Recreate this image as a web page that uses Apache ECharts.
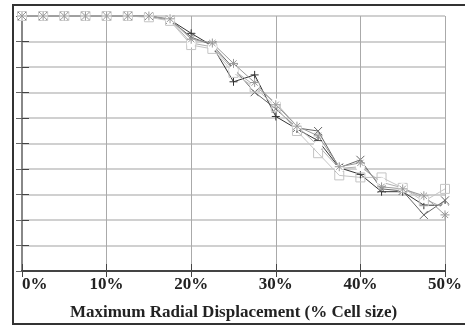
<!DOCTYPE html>
<html>
<head>
<meta charset="utf-8">
<script src="https://cdn.jsdelivr.net/npm/echarts@6/dist/echarts.min.js"></script>
<style>
  html, body { margin: 0; padding: 0; background: #fff; }
  #chart { width: 465px; height: 326px; }
</style>
</head>
<body>
<div id="chart"></div>
<script>
// x positions: maximum radial displacement (% of cell size)
const displacement = [0, 2.5, 5, 7.5, 10, 12.5, 15, 17.5, 20, 22.5, 25, 27.5, 30, 32.5, 35, 37.5, 40, 42.5, 45, 47.5, 50];
const xTicks = [0, 10, 20, 30, 40, 50];

// series values (y axis has no labels, 0..100 scale)
const seriesPlus = [100, 100, 100, 100, 100, 100, 100, 98.5, 93.2, 88.3, 74.2, 76.9, 60.6, 55.7, 51.1, 40.5, 37.9, 31.1, 31.1, 25.8, 25.8];
const seriesCross = [100, 100, 100, 100, 100, 100, 100, 98.5, 91.7, 88.6, 79.5, 70.1, 63.6, 56.1, 54.9, 40.5, 43.6, 32.2, 31.4, 22.0, 27.7];
const seriesStar = [100, 100, 100, 100, 100, 100, 100, 98.9, 90.9, 89.4, 81.4, 73.9, 65.2, 56.8, 53.0, 40.9, 42.4, 33.0, 32.2, 29.5, 22.0];
const seriesCircle = [100, 100, 100, 100, 100, 100, 100, 98.5, 89.4, 87.9, 78.8, 72.7, 65.9, 56.8, 49.2, 40.2, 40.9, 34.8, 32.6, 28.4, 24.6];
const seriesSquare = [100, 100, 100, 100, 100, 100, 99.5, 98.1, 88.6, 87.1, 77.7, 72.0, 64.4, 54.9, 46.2, 37.5, 36.7, 36.7, 32.6, 27.3, 32.2];

const chart = echarts.init(document.getElementById('chart'));

const SYM_PLUS = 'path://M5,0L5,10M0,5L10,5';
const SYM_CROSS = 'path://M0,0L10,10M10,0L0,10';
const SYM_STAR = 'path://M5,0L5,10M0,5L10,5M1.5,1.5L8.5,8.5M8.5,1.5L1.5,8.5';

function makeSeries(values, symbol, color, size) {
    return {
        type: 'line',
        data: values.map((v, i) => [displacement[i], v]),
        symbol: symbol,
        symbolSize: size,
        lineStyle: { color: color, width: 1 },
        itemStyle: { color: 'rgba(0,0,0,0)', borderColor: color, borderWidth: 1 },
        emphasis: { disabled: true }
    };
}

const serif = 'Liberation Serif, Times New Roman, serif';

const option = {
    animation: false,
    graphic: [{
        type: 'rect',
        shape: { x: 13, y: 5, width: 470, height: 319 },
        style: { fill: 'none', stroke: '#333', lineWidth: 2 },
        silent: true
    }],
    grid: { left: 22, top: 16, right: 20, bottom: 46 },
    xAxis: [{
        type: 'value', min: 0, max: 50, interval: 10, position: 'bottom',
        axisLine: { lineStyle: { color: '#444', width: 2 } },
        axisTick: { inside: true, length: 7, lineStyle: { color: '#444' } },
        axisLabel: {
            formatter: '{value}%', fontFamily: serif, fontWeight: 'bold',
            fontSize: 17, color: '#222', margin: 5, alignMinLabel: 'left'
        },
        splitLine: { show: true, lineStyle: { color: '#aaa', width: 1 } },
        name: 'Maximum Radial Displacement (% Cell size)',
        nameLocation: 'middle', nameGap: 33,
        nameTextStyle: { fontFamily: serif, fontWeight: 'bold', fontSize: 17, color: '#222' }
    }, {
        type: 'value', min: 0, max: 50, interval: 10, position: 'top',
        axisLine: { lineStyle: { color: '#444', width: 2 } },
        axisTick: { inside: true, length: 6, lineStyle: { color: '#444' } },
        axisLabel: { show: false },
        splitLine: { show: false }
    }],
    yAxis: [{
        type: 'value', min: 0, max: 100, interval: 10, position: 'left',
        axisLine: { show: true, lineStyle: { color: '#444', width: 2 } },
        axisTick: { show: true, inside: true, length: 7, lineStyle: { color: '#444' } },
        axisLabel: { show: false },
        splitLine: { show: true, lineStyle: { color: '#d0d0d0', width: 2 } }
    }, {
        type: 'value', min: 0, max: 100, interval: 10, position: 'right',
        axisLine: { show: true, lineStyle: { color: '#888', width: 2 } },
        axisTick: { show: true, inside: true, length: 6, lineStyle: { color: '#666' } },
        axisLabel: { show: false },
        splitLine: { show: false }
    }],
    series: [
        makeSeries(seriesPlus, SYM_PLUS, '#333', 8),
        makeSeries(seriesCross, SYM_CROSS, '#666', 8),
        makeSeries(seriesSquare, 'rect', '#c4c4c4', 9),
        makeSeries(seriesCircle, 'emptyCircle', '#b0b0b0', 9),
        makeSeries(seriesStar, SYM_STAR, '#999', 9)
    ]
};
chart.setOption(option);
</script>
</body>
</html>
